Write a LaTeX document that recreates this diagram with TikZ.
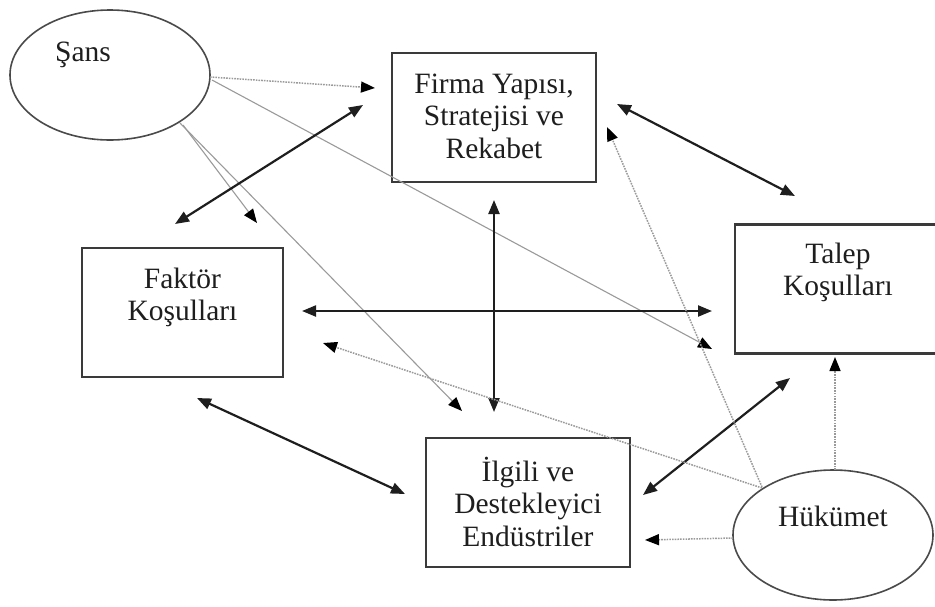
\documentclass[tikz,border=0pt]{standalone}
\usepackage{fontspec}
\setmainfont{Liberation Serif}
\usetikzlibrary{arrows.meta,shapes.geometric}
\definecolor{ink}{HTML}{1E1E1E}
\definecolor{boxgray}{HTML}{3A3A3A}
\definecolor{ovalgray}{HTML}{4A4A4A}
\definecolor{faint}{HTML}{9A9A9A}
\begin{document}
\begin{tikzpicture}[x=1pt,y=-1pt,
  box/.style={draw=boxgray,line width=2.2pt,minimum width=204pt,minimum height=129pt,inner sep=0pt},
  oval/.style={draw=ovalgray,line width=1.6pt,ellipse,minimum width=200pt,minimum height=130pt,inner sep=0pt},
  txt/.style={font=\fontsize{29.5}{32.5}\selectfont,align=center,text=ink,inner sep=0pt},
  strong/.style={draw=ink,line width=2.2pt,{Triangle[length=14pt,width=11pt]}-{Triangle[length=14pt,width=11pt]}},
  dotline/.style={draw=faint,line width=1.5pt,dash pattern=on 1.6pt off 1.1pt,-{Triangle[length=14pt,width=11pt,color=black]}},
  thinline/.style={draw=faint,line width=1.1pt,-{Triangle[length=14pt,width=11pt,color=black]}}
]
\useasboundingbox (0,0) rectangle (935,606);

% the six elements of the diamond
\node[oval] (sans) at (110,75) {};
\node[txt] (sanstxt) at (83,55) {Şans};

\node[box] (firma) at (494,117.5) {};
\node[txt] (firmatxt) at ([shift={(0,-1.5)}]firma.center) {Firma Yapısı,\\Stratejisi ve\\Rekabet};

% the demand box runs past the right margin
\node[box,minimum width=212pt] (talep) at (841,289) {};
\node[txt] (taleptxt) at ([shift={(-3,-16.5)}]talep.center) {Talep\\Koşulları};

\node[box,minimum width=201pt] (faktor) at (182.5,312.5) {};
\node[txt] (faktortxt) at ([shift={(0,-15)}]faktor.center) {Faktör\\Koşulları};

\node[box] (ilgili) at (528,502.5) {};
\node[txt] (ilgilitxt) at ([shift={(0,-1)}]ilgili.center) {İlgili ve\\Destekleyici\\Endüstriler};

\node[oval] (hukumet) at (833,535) {};
\node[txt] (hukumettxt) at ([shift={(0,-19)}]hukumet.center) {Hükümet};

% influence of chance
\draw[dotline] ([shift={(100,2)}]sans.center) -- ([shift={(-119,-29.5)}]firma.center);
\draw[thinline] ([shift={(102,5)}]sans.center) -- ([shift={(-129,60)}]talep.center);
\draw[thinline] ([shift={(73,50)}]sans.center) -- ([shift={(74.5,-89.5)}]faktor.center);
\draw[thinline] ([shift={(70,48)}]sans.center) -- ([shift={(-66,-91.5)}]ilgili.center);

% mutual links between the four determinants
\draw[strong] ([shift={(-7.5,-88.5)}]faktor.center) -- ([shift={(-131,-12.5)}]firma.center);
\draw[strong] ([shift={(123,-13.5)}]firma.center) -- ([shift={(-46,-93)}]talep.center);
\draw[strong] ([shift={(0,82.5)}]firma.center) -- ([shift={(-34,-90.5)}]ilgili.center);
\draw[strong] ([shift={(119.5,-1.5)}]faktor.center) -- ([shift={(-129,22)}]talep.center);
\draw[strong] ([shift={(14.5,85.5)}]faktor.center) -- ([shift={(-123,-8.5)}]ilgili.center);
\draw[strong] ([shift={(-51,89)}]talep.center) -- ([shift={(115,-7.5)}]ilgili.center);

% influence of government
\draw[dotline] ([shift={(-71,-47)}]hukumet.center) -- ([shift={(140.5,30.5)}]faktor.center);
\draw[dotline] ([shift={(-71,-48)}]hukumet.center) -- ([shift={(113,9.5)}]firma.center);
\draw[dotline] ([shift={(2,-65)}]hukumet.center) -- ([shift={(-6,68)}]talep.center);
\draw[dotline] ([shift={(-100,3)}]hukumet.center) -- ([shift={(117,37.5)}]ilgili.center);
\end{tikzpicture}
\end{document}
